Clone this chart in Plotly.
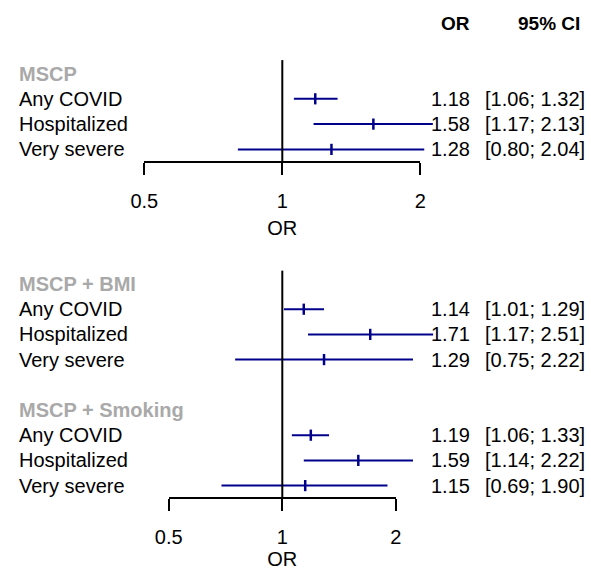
import math
import plotly.graph_objects as go

# ---------------- data ----------------
outcomes = ["Any COVID", "Hospitalized", "Very severe"]

group_titles = ["MSCP", "MSCP + BMI", "MSCP + Smoking"]

mscp_or = [1.18, 1.58, 1.28]
mscp_lo = [1.06, 1.17, 0.80]
mscp_hi = [1.32, 2.13, 2.04]

bmi_or = [1.14, 1.71, 1.29]
bmi_lo = [1.01, 1.17, 0.75]
bmi_hi = [1.29, 2.51, 2.22]

smk_or = [1.19, 1.59, 1.15]
smk_lo = [1.06, 1.14, 0.69]
smk_hi = [1.33, 2.22, 1.90]

tick_vals = [0.5, 1, 2]
tick_text = ["0.5", "1", "2"]

# ---------------- layout constants (pixels) ----------------
W, H = 591, 570
FONT = "Liberation Sans, Arial, sans-serif"
NAVY = "#00008B"
GRAY = "#A9A9A9"
FS = 20

X_ONE = 282.3          # pixel of OR = 1
S_TOP = 138.0          # px per doubling (top panel)
S_BOT = 113.6          # px per doubling (bottom panel)
TOP_Y0, TOP_DY = 73.5, 25.3   # pixel of row 0 and row spacing (top)
BOT_Y0, BOT_DY = 284.0, 25.2  # (bottom)

LABEL_X = 17
OR_RIGHT = 472
CI_RIGHT = 587

LOG2 = math.log10(2)


def xrange_for(scale):
    left = -X_ONE / scale * LOG2
    right = (W - X_ONE) / scale * LOG2
    return [left, right]


def yrange_for(y0, dy):
    return [(H - y0) / dy, (0 - y0) / dy]


def px_of(v, scale):
    return X_ONE + scale * math.log2(v)


fig = go.Figure()


def add_panel(xa, ya, rows, ors, los, his, axis_row):
    xs, ys = [], []
    for r, lo, hi in zip(rows, los, his):
        xs += [lo, hi, None]
        ys += [r, r, None]
    fig.add_trace(go.Scatter(x=xs, y=ys, mode="lines", xaxis=xa, yaxis=ya,
                             line=dict(color=NAVY, width=2), hoverinfo="skip"))
    fig.add_trace(go.Scatter(x=ors, y=rows, mode="markers", xaxis=xa, yaxis=ya,
                             marker=dict(symbol="line-ns", size=8,
                                         line=dict(color=NAVY, width=2.5)),
                             hoverinfo="skip"))
    # reference line at OR = 1
    fig.add_trace(go.Scatter(x=[1, 1], y=[-0.53, axis_row], mode="lines",
                             xaxis=xa, yaxis=ya,
                             line=dict(color="black", width=2), hoverinfo="skip"))


# top panel rows: header 0, outcomes 1..3 ; axis at 3.5
top_rows = [1, 2, 3]
add_panel("x", "y", top_rows, mscp_or, mscp_lo, mscp_hi, 3.5)

# bottom panel rows: header 0, outcomes 1..3, header 5, outcomes 6..8 ; axis at 8.5
bmi_rows = [1, 2, 3]
smk_rows = [6, 7, 8]
add_panel("x2", "y2", bmi_rows + smk_rows, bmi_or + smk_or, bmi_lo + smk_lo,
          bmi_hi + smk_hi, 8.5)

# dummy traces for display axes
fig.add_trace(go.Scatter(x=[1], y=[1], xaxis="x3", yaxis="y", mode="markers",
                         marker=dict(opacity=0), hoverinfo="skip"))
fig.add_trace(go.Scatter(x=[1], y=[1], xaxis="x4", yaxis="y2", mode="markers",
                         marker=dict(opacity=0), hoverinfo="skip"))

hidden = dict(visible=False, showgrid=False, zeroline=False, automargin=False)


def display_axis(scale, axis_px):
    eps = 1e-6
    return dict(
        type="log",
        domain=[px_of(0.5, scale) / W, px_of(2, scale) / W],
        range=[math.log10(0.5) - eps, math.log10(2) + eps],
        anchor="free",
        position=1 - axis_px / H,
        automargin=False,
        showline=True, linecolor="black", linewidth=2,
        ticks="outside", ticklen=12, tickwidth=2, tickcolor="black",
        tickmode="array", tickvals=tick_vals, ticktext=tick_text,
        tickfont=dict(family=FONT, size=FS, color="black"),
        ticklabelstandoff=9,
        title=dict(text="OR", font=dict(family=FONT, size=FS, color="black"),
                   standoff=9),
        showgrid=False, zeroline=False, fixedrange=True,
    )


fig.update_layout(
    template="none",
    width=W, height=H, autosize=False,
    margin=dict(l=0, r=0, t=0, b=0, pad=0, autoexpand=False),
    paper_bgcolor="white", plot_bgcolor="rgba(0,0,0,0)",
    showlegend=False,
    font=dict(family=FONT, size=FS, color="black"),
    xaxis=dict(type="log", domain=[0, 1], range=xrange_for(S_TOP), anchor="y", **hidden),
    yaxis=dict(domain=[0, 1], range=yrange_for(TOP_Y0, TOP_DY), anchor="x", **hidden),
    xaxis2=dict(type="log", domain=[0, 1], range=xrange_for(S_BOT), anchor="y2", **hidden),
    yaxis2=dict(domain=[0, 1], range=yrange_for(BOT_Y0, BOT_DY), anchor="x2", **hidden),
    xaxis3=display_axis(S_TOP, TOP_Y0 + 3.5 * TOP_DY),
    xaxis4=display_axis(S_BOT, BOT_Y0 + 8.5 * BOT_DY),
)

ann = []


def txt(text, xpx, yref, yval, anchor, color="black", bold=False, size=FS):
    ann.append(dict(
        text=f"<b>{text}</b>" if bold else text,
        xref="paper", x=xpx / W, yref=yref, y=yval,
        xanchor=anchor, yanchor="middle", showarrow=False,
        font=dict(family=FONT, size=size, color=color),
    ))


# column headers
txt("OR", OR_RIGHT, "paper", 1 - 23 / H, "right", bold=True, size=19)
txt("95% CI", 582, "paper", 1 - 23 / H, "right", bold=True, size=19)

# top panel text
txt(group_titles[0], LABEL_X, "y", 0, "left", color=GRAY, bold=True)
for r, name, o, lo, hi in zip(top_rows, outcomes, mscp_or, mscp_lo, mscp_hi):
    txt(name, LABEL_X, "y", r, "left")
    txt(f"{o:.2f}", OR_RIGHT, "y", r, "right")
    txt(f"[{lo:.2f}; {hi:.2f}]", CI_RIGHT, "y", r, "right")

# bottom panel text
txt(group_titles[1], LABEL_X, "y2", 0, "left", color=GRAY, bold=True)
for r, name, o, lo, hi in zip(bmi_rows, outcomes, bmi_or, bmi_lo, bmi_hi):
    txt(name, LABEL_X, "y2", r, "left")
    txt(f"{o:.2f}", OR_RIGHT, "y2", r, "right")
    txt(f"[{lo:.2f}; {hi:.2f}]", CI_RIGHT, "y2", r, "right")

txt(group_titles[2], LABEL_X, "y2", 5, "left", color=GRAY, bold=True)
for r, name, o, lo, hi in zip(smk_rows, outcomes, smk_or, smk_lo, smk_hi):
    txt(name, LABEL_X, "y2", r, "left")
    txt(f"{o:.2f}", OR_RIGHT, "y2", r, "right")
    txt(f"[{lo:.2f}; {hi:.2f}]", CI_RIGHT, "y2", r, "right")

fig.update_layout(annotations=ann)

fig.write_html(
    "out.html",
    config={"displayModeBar": False},
    post_script="document.body.style.margin='0';document.body.style.overflow='hidden';",
)
